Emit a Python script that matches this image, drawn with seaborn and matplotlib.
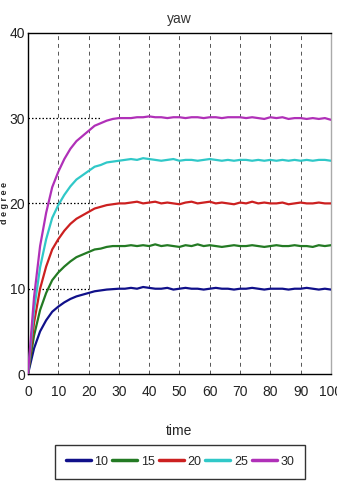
import matplotlib
matplotlib.use("Agg")
import matplotlib.pyplot as plt
import seaborn as sns
import pandas as pd
from matplotlib.lines import Line2D

# ---- data ----
time = list(range(0, 101, 2))
labels = ["10", "15", "20", "25", "30"]
colors = ["#10108a", "#237a23", "#cc2020", "#30c8c8", "#b030b8"]

s10 = [0, 3.0, 5.0, 6.3, 7.3, 7.9, 8.4, 8.8, 9.1, 9.3, 9.5, 9.7, 9.8, 9.9, 9.95, 10.0,
       10.0, 10.1, 10.0, 10.2, 10.1,
       10.0, 10.0, 10.1, 9.9, 10.0,
       10.1, 10.0, 10.0, 9.9, 10.0,
       10.1, 10.0, 10.0, 9.9, 10.0,
       10.0, 10.1, 10.0, 9.9, 10.0,
       10.0, 10.0, 9.9, 10.0, 10.0,
       10.1, 10.0, 9.9, 10.0, 9.9]
s15 = [0, 4.5, 7.5, 9.5, 11.0, 11.9, 12.6, 13.2, 13.7, 14.0, 14.3, 14.6, 14.7, 14.9, 15.0, 15.0,
       15.0, 15.1, 15.0, 15.1, 15.0,
       15.2, 15.0, 15.1, 15.0, 14.9,
       15.1, 15.0, 15.2, 15.0, 15.1,
       15.0, 14.9, 15.0, 15.1, 15.0,
       15.0, 15.1, 15.0, 14.9, 15.0,
       15.1, 15.0, 15.0, 15.1, 15.0,
       15.0, 14.9, 15.1, 15.0, 15.1]
s20 = [0, 6.0, 10.0, 12.6, 14.6, 15.8, 16.8, 17.6, 18.2, 18.6, 19.0, 19.4, 19.6, 19.8, 19.9, 20.0,
       20.0, 20.1, 20.2, 20.0, 20.1,
       20.2, 20.0, 20.1, 20.0, 19.9,
       20.1, 20.2, 20.0, 20.1, 20.2,
       20.0, 20.1, 20.0, 19.9, 20.1,
       20.0, 20.2, 20.0, 20.1, 20.0,
       20.0, 20.1, 19.9, 20.0, 20.1,
       20.0, 20.0, 20.1, 20.0, 20.0]
s25 = [0, 7.5, 12.5, 15.8, 18.3, 19.8, 21.0, 22.0, 22.8, 23.3, 23.8, 24.3, 24.5, 24.8, 24.9, 25.0,
       25.1, 25.2, 25.1, 25.3, 25.2,
       25.1, 25.0, 25.1, 25.2, 25.0,
       25.1, 25.1, 25.0, 25.1, 25.2,
       25.1, 25.0, 25.1, 25.0, 25.1,
       25.1, 25.0, 25.1, 25.0, 25.1,
       25.0, 25.1, 25.0, 25.1, 25.0,
       25.1, 25.0, 25.1, 25.1, 25.0]
s30 = [0, 9.0, 15.0, 18.9, 21.9, 23.7, 25.2, 26.4, 27.3, 27.9, 28.5, 29.1, 29.4, 29.7, 29.9, 30.0,
       30.0, 30.0, 30.1, 30.1, 30.2,
       30.1, 30.1, 30.0, 30.1, 30.1,
       30.0, 30.1, 30.1, 30.0, 30.1,
       30.1, 30.0, 30.1, 30.1, 30.1,
       30.0, 30.1, 30.0, 29.9, 30.1,
       30.0, 30.1, 29.9, 30.0, 30.0,
       29.9, 30.0, 29.9, 30.0, 29.8]

ref_levels = [10, 20, 30]
ref_end = [20, 22, 24]
xticks = [0, 10, 20, 30, 40, 50, 60, 70, 80, 90, 100]
yticks = [0, 10, 20, 30, 40]

series = [s10, s15, s20, s25, s30]
rows = []
for lab, vals in zip(labels, series):
    for t, v in zip(time, vals):
        rows.append({"time": t, "degree": v, "series": lab})
df = pd.DataFrame(rows)

# ---- plot ----
sns.set_style("white")
plt.rcParams['font.family'] = ['Liberation Sans', 'DejaVu Sans']

fig = plt.figure(figsize=(3.37, 4.82), dpi=100)
ax = fig.add_axes([0.083, 0.224, 0.899, 0.708])

sns.lineplot(data=df, x="time", y="degree", hue="series", hue_order=labels,
             palette=colors, linewidth=1.6, ax=ax, legend=False, zorder=3)

for lv, xe in zip(ref_levels, ref_end):
    ax.plot([0, xe], [lv, lv], color="black", linestyle=(0, (1.2, 1.6)), linewidth=0.9, zorder=2)

for xv in xticks[1:-1]:
    ax.axvline(xv, color="#555555", linestyle=(0, (4, 4)), linewidth=0.7, zorder=1)

ax.set_xlim(0, 100)
ax.set_ylim(0, 40)
ax.set_xticks(xticks)
ax.set_yticks(yticks)
ax.tick_params(axis="both", labelsize=10, length=0, labelcolor="#222222")
ax.tick_params(axis="x", pad=8)
ax.tick_params(axis="y", pad=2)
for sp in ["left", "bottom", "top"]:
    ax.spines[sp].set_color("black")
    ax.spines[sp].set_linewidth(1.0)
ax.spines["right"].set_color("#aaaaaa")
ax.spines["right"].set_linewidth(1.0)

ax.set_title("yaw", fontsize=10, color="#333333", pad=7)
ax.set_xlabel("time", fontsize=10)
ax.xaxis.set_label_coords(0.5, -0.145)
ax.set_ylabel("d e g r e e", fontsize=6.5, fontweight="bold")
ax.yaxis.set_label_coords(-0.064, 0.5)

handles = [Line2D([0], [0], color=c, linewidth=2.5) for c in colors]
leg = fig.legend(handles, labels, loc="center", bbox_to_anchor=(0.534, 0.042),
                 ncol=5, frameon=True, fancybox=False, fontsize=9,
                 handlelength=2.0, handletextpad=0.3, columnspacing=0.3,
                 borderpad=0.9)
leg.get_frame().set_edgecolor("black")
leg.get_frame().set_linewidth(1.0)

fig.savefig("out.png", dpi=100)
